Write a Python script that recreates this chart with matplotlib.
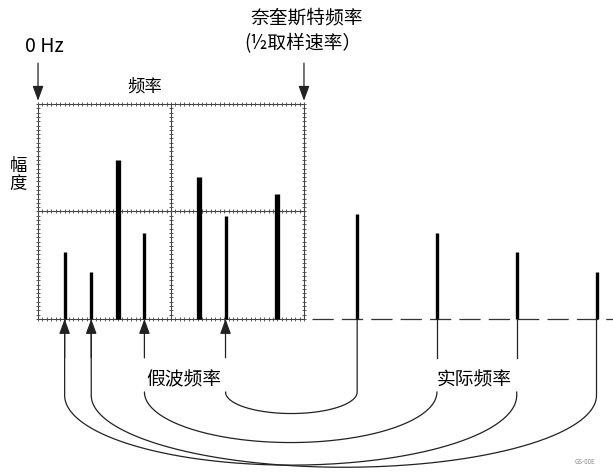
import numpy as np
import matplotlib
matplotlib.use("Agg")
import matplotlib.pyplot as plt

plt.rcParams['font.family'] = ['Noto Sans CJK SC', 'DejaVu Sans']

# 频率单位: 0 Hz = 0, 奈奎斯特频率 = 1 ; 幅度单位: 格框高度 = 1
signal_freq = [0.3, 0.605, 0.90]
signal_amp = [0.74, 0.66, 0.58]
alias_freq = [0.10, 0.20, 0.40, 0.705]
alias_amp = [0.31, 0.22, 0.40, 0.48]
actual_freq = [1.20, 1.50, 1.80, 2.10]
actual_amp = [0.49, 0.40, 0.31, 0.22]
# 假波 -> 实际 对应关系 (索引)
pairs = [(3, 0), (2, 1), (0, 2), (1, 3)]
arc_depth = [0.10, 0.235, 0.325, 0.335]

fig = plt.figure(figsize=(6.13, 4.72), dpi=100)
ax = fig.add_axes([0, 0, 1, 1])
ax.set_xlim(-0.143, 2.162)
ax.set_ylim(-0.712, 1.484)
ax.axis('off')

gc = '#444444'
# 格框
for y in [0, 0.5, 1.0]:
    ax.plot([0, 1], [y, y], color=gc, lw=0.8)
    ax.plot(np.linspace(0, 1, 61), [y] * 61, ls='none', marker='|', ms=3.5, mew=0.6, color=gc)
for x in [0, 0.5, 1.0]:
    ax.plot([x, x], [0, 1], color=gc, lw=0.8)
    ax.plot([x] * 51, np.linspace(0, 1, 51), ls='none', marker='_', ms=3.5, mew=0.6, color=gc)

# 基线虚线 (奈奎斯特频率之外)
ax.plot([1.03, 2.162], [0, 0], color='#333333', lw=0.9, dashes=(17, 6.5))

# 谱线
ax.vlines(signal_freq, 0, signal_amp, color='black', lw=3.8)
ax.vlines(alias_freq, 0, alias_amp, color='black', lw=2.4)
ax.vlines(actual_freq, 0, actual_amp, color='black', lw=2.4)

lc = '#222222'
aprops = dict(arrowstyle='-|>,head_length=0.9,head_width=0.33', color=lc, lw=0.9,
              shrinkA=0, shrinkB=0, mutation_scale=10)

# 顶部箭头
for x in [0, 1]:
    ax.annotate('', xy=(x, 1.015), xytext=(x, 1.19), arrowprops=aprops)

# 假波箭头
for f in alias_freq:
    ax.annotate('', xy=(f, 0), xytext=(f, -0.181), arrowprops=aprops)
# 实际频率短线
for f in actual_freq[1:3]:
    ax.plot([f, f], [0, -0.181], color=lc, lw=0.9)

# 连接弧线
top = -0.34
for (ia, ir), d in zip(pairs, arc_depth):
    xl, xr = alias_freq[ia], actual_freq[ir]
    yl = 0 if ia in (0, 1) else top
    yr = 0 if ir in (0, 3) else top
    yt = top - 0.015 if ia in (0, 1) else top
    c, r = (xl + xr) / 2, (xr - xl) / 2
    t = np.linspace(np.pi, 2 * np.pi, 200)
    xs = np.concatenate([[xl], c + r * np.cos(t), [xr]])
    ys = np.concatenate([[yl], yt + d * np.sin(t), [yr]])
    ax.plot(xs, ys, color=lc, lw=0.9)

fs = 13.5
fw = 'medium'
ax.text(0.025, 1.267, '0 Hz', fontsize=14, fontweight=fw, ha='center', va='center')
ax.text(1.01, 1.40, '奈奎斯特频率', fontsize=fs, fontweight=fw, ha='center', va='center')
ax.text(0.995, 1.28, '(½取样速率）', fontsize=fs, fontweight=fw, ha='center', va='center')
ax.text(0.40, 1.08, '频率', fontsize=12.5, fontweight=fw, ha='center', va='center')
ax.text(-0.075, 0.67, '幅\n度', fontsize=12.5, fontweight=fw, ha='center', va='center',
        linespacing=1.0)
ax.text(0.55, -0.284, '假波频率', fontsize=fs, fontweight=fw, ha='center', va='center')
ax.text(1.64, -0.284, '实际频率', fontsize=fs, fontweight=fw, ha='center', va='center')
ax.text(2.056, -0.665, 'GS-00E', fontsize=4.5, color='#888888', ha='center', va='center')

fig.savefig('out.png', dpi=100)
